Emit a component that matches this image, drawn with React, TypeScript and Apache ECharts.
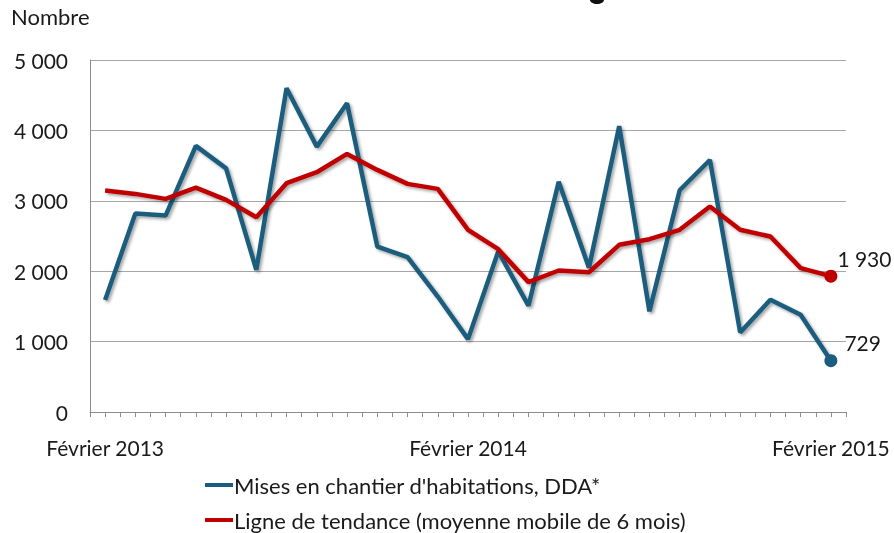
import React, { useEffect, useRef } from "react";
import * as echarts from "echarts";

const months = ["Janvier", "Février", "Mars", "Avril", "Mai", "Juin", "Juillet", "Août", "Septembre", "Octobre", "Novembre", "Décembre"];
const categories: string[] = [];
for (let k = 0; k < 25; k++) {
  const m = (1 + k) % 12;
  const y = 2013 + Math.floor((1 + k) / 12);
  categories.push(months[m] + " " + y);
}

const misesEnChantier = [1590, 2820, 2790, 3780, 3460, 2020, 4600, 3770, 4385, 2350, 2200, 1640, 1035, 2280, 1510, 3270, 2050, 4060, 1430, 3150, 3580, 1130, 1595, 1380, 729];
const tendance = [3145, 3098, 3027, 3188, 3013, 2767, 3250, 3406, 3666, 3439, 3240, 3169, 2588, 2313, 1845, 2010, 1985, 2375, 2455, 2588, 2919, 2588, 2493, 2044, 1930];
const yTicks = [0, 1000, 2000, 3000, 4000, 5000];

const seriesNames = ["Mises en chantier d'habitations, DDA*", "Ligne de tendance (moyenne mobile de 6 mois)"];
const endLabels = ["729", "1 930"];

const FONT = "Lato";
const TEXT = "#1a1a1a";
const BLUE = "#1b5d7e";
const RED = "#c00000";

function fmt(v: number) {
  if (v >= 1000) {
    const t = Math.floor(v / 1000);
    const r = String(v % 1000).padStart(3, "0");
    return t + " " + r;
  }
  return String(v);
}

export default function App() {
  const ref = useRef<HTMLDivElement>(null);
  useEffect(() => {
    if (!ref.current) return;
    const chart = echarts.init(ref.current, undefined, { renderer: "svg" });
    const last = categories.length - 1;
    const mkData = (arr: number[], label: string, color: string, offset: number[]) =>
      arr.map((v, i) =>
        i === last
          ? {
              value: v,
              symbol: "circle",
              symbolSize: 13,
              itemStyle: { color },
              label: {
                show: true,
                formatter: label,
                position: "right",
                distance: 0,
                offset,
                fontFamily: FONT,
                fontSize: 21,
                color: TEXT,
              },
            }
          : { value: v, symbolSize: 0 }
      );
    const lineShadow = {
      shadowColor: "rgba(0,0,0,0.35)",
      shadowBlur: 3,
      shadowOffsetX: 2,
      shadowOffsetY: 2,
    };
    const legendBase = {
      orient: "horizontal",
      left: 205,
      padding: 0,
      itemWidth: 28,
      itemHeight: 4,
      icon: "rect",
      selectedMode: false,
      textStyle: { fontFamily: FONT, fontSize: 22, lineHeight: 26, color: TEXT, padding: [0, 0, 0, -4] },
    };
    chart.setOption({
      animation: false,
      grid: { left: 90, right: 48, top: 60, bottom: 121 },
      graphic: [
        {
          type: "text",
          left: 11,
          top: 5,
          style: { text: "Nombre", fontFamily: FONT, fontSize: 22, fill: TEXT },
        },
        {
          type: "ellipse",
          shape: { cx: 597, cy: 0, rx: 7, ry: 4 },
          style: { fill: "#111" },
        },
      ],
      legend: [
        { ...legendBase, top: 472, data: [seriesNames[0]] },
        { ...legendBase, top: 507, data: [seriesNames[1]] },
      ],
      xAxis: [
        {
          type: "category",
          data: categories,
          boundaryGap: true,
          axisLine: { lineStyle: { color: "#8c8c8c", width: 1 } },
          axisTick: { show: true, interval: 0, length: 5, lineStyle: { color: "#8c8c8c" } },
          axisLabel: {
            interval: (i: number) => i % 12 === 0,
            formatter: (v: string) => v,
            margin: 25,
            fontFamily: FONT,
            fontSize: 21,
            color: TEXT,
          },
          splitLine: { show: false },
        },
        {
          type: "category",
          data: categories,
          boundaryGap: true,
          position: "bottom",
          axisLine: { show: false },
          axisTick: { show: true, interval: 0, alignWithLabel: true, length: 5, lineStyle: { color: "#8c8c8c" } },
          axisLabel: { show: false },
          splitLine: { show: false },
        },
      ],
      yAxis: {
        type: "value",
        min: yTicks[0],
        max: yTicks[yTicks.length - 1],
        interval: 1000,
        axisLine: { show: true, lineStyle: { color: "#8c8c8c" } },
        axisTick: { show: false },
        axisLabel: {
          formatter: (v: number) => fmt(v),
          margin: 22,
          fontFamily: FONT,
          fontSize: 21,
          color: TEXT,
        },
        splitLine: { lineStyle: { color: "#a6a6a6", width: 1 } },
      },
      series: [
        {
          name: seriesNames[0],
          type: "line",
          xAxisIndex: 0,
          data: mkData(misesEnChantier, endLabels[0], BLUE, [7, -18]),
          symbol: "circle",
          color: BLUE,
          lineStyle: { color: BLUE, width: 4.5, ...lineShadow },
          itemStyle: { color: BLUE },
          emphasis: { disabled: true },
          z: 3,
        },
        {
          name: seriesNames[1],
          type: "line",
          xAxisIndex: 0,
          data: mkData(tendance, endLabels[1], RED, [0, -18]),
          symbol: "circle",
          color: RED,
          lineStyle: { color: RED, width: 4.5, ...lineShadow },
          itemStyle: { color: RED },
          emphasis: { disabled: true },
          z: 4,
        },
      ],
    });
    return () => chart.dispose();
  }, []);
  return <div ref={ref} style={{ width: 894, height: 533, position: "fixed", left: 0, top: 0 }} />;
}
